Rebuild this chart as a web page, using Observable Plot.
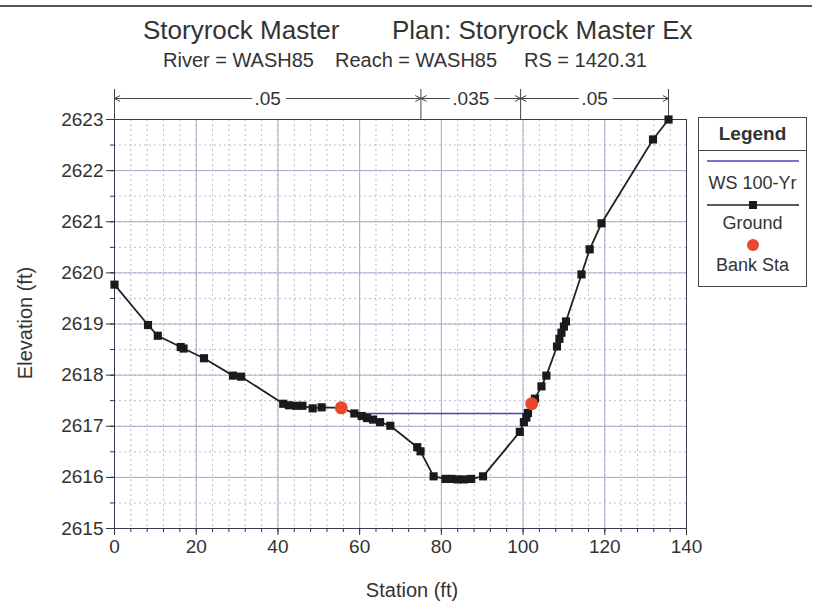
<!DOCTYPE html>
<html>
<head>
<meta charset="utf-8">
<script src="https://cdn.jsdelivr.net/npm/d3@7"></script>
<script src="https://cdn.jsdelivr.net/npm/@observablehq/plot@0.6"></script>
<style>
  body { margin: 0; background: #fff; }
  #wrap { position: relative; width: 824px; height: 602px; overflow: hidden; background: #fff;
          font-family: "Liberation Sans", Arial, sans-serif; color: #333; }
  .abs { position: absolute; white-space: pre; line-height: 1; }
  #plot { position: absolute; left: 0; top: 0; }
</style>
</head>
<body>
<div id="wrap">
  <div class="abs" style="left:0;top:5px;width:812px;height:0;border-top:2px solid #555;"></div>
  <div class="abs" style="left:143px;top:17px;font-size:26px;">Storyrock Master</div>
  <div class="abs" style="left:392px;top:17px;font-size:26px;">Plan: Storyrock Master Ex</div>
  <div class="abs" style="left:163px;top:50px;font-size:20px;">River = WASH85</div>
  <div class="abs" style="left:335px;top:50px;font-size:20px;">Reach = WASH85</div>
  <div class="abs" style="left:524px;top:50px;font-size:20px;">RS = 1420.31</div>
  <div id="plot"></div>
  <div class="abs" style="left:412px;top:580px;font-size:20px;transform:translateX(-50%);">Station (ft)</div>
  <div class="abs" style="left:25px;top:323px;font-size:20px;transform:translate(-50%,-50%) rotate(-90deg);">Elevation (ft)</div>
  <div id="legend" class="abs" style="left:698px;top:117px;width:107px;height:168px;border:1px solid #444;background:#fff;">
    <div class="abs" style="left:0;top:0;width:107px;height:32px;border-bottom:1px solid #444;text-align:center;font-weight:bold;font-size:19px;line-height:32px;">Legend</div>
    <svg class="abs" style="left:0;top:0" width="107" height="168">
      <line x1="8" x2="100" y1="43" y2="43" stroke="#4545b5" stroke-width="1.5"/>
      <line x1="8" x2="100" y1="87" y2="87" stroke="#222" stroke-width="1.5"/>
      <rect x="50" y="83" width="8" height="8" fill="#1a1a1a"/>
      <circle cx="54" cy="127" r="6" fill="#e8482c"/>
    </svg>
    <div class="abs" style="left:0;top:56px;width:107px;text-align:center;font-size:18px;">WS 100-Yr</div>
    <div class="abs" style="left:0;top:96px;width:107px;text-align:center;font-size:18px;">Ground</div>
    <div class="abs" style="left:0;top:138px;width:107px;text-align:center;font-size:18px;">Bank Sta</div>
  </div>
</div>
<script>
// ---- data ----
const groundStation = [0, 8.2, 10.6, 16.2, 16.9, 21.9, 29.0, 31.0, 41.3, 42.7, 44.5, 46.0, 48.5, 50.7, 55.5,
  58.7, 60.5, 61.8, 63.3, 65.0, 67.5, 74.1, 74.9, 78.1, 81.0, 82.5, 84.0, 85.5, 87.3, 90.2,
  99.2, 100.2, 100.8, 101.2, 102.1, 102.9, 104.5, 105.7, 108.3, 108.9, 109.4, 110.0, 110.5,
  114.3, 116.3, 119.2, 131.8, 135.6];
const groundElev = [2619.77, 2618.98, 2618.77, 2618.55, 2618.52, 2618.33, 2617.99, 2617.97, 2617.44, 2617.41, 2617.40, 2617.40, 2617.35, 2617.37, 2617.36,
  2617.25, 2617.20, 2617.16, 2617.13, 2617.08, 2617.01, 2616.59, 2616.51, 2616.02, 2615.97, 2615.97, 2615.96, 2615.96, 2615.97, 2616.02,
  2616.89, 2617.08, 2617.17, 2617.26, 2617.44, 2617.54, 2617.78, 2617.99, 2618.56, 2618.71, 2618.83, 2618.95, 2619.05,
  2619.97, 2620.46, 2620.97, 2622.61, 2623.0];
const bankStation = [55.5, 102.1];
const bankElev = [2617.36, 2617.44];
const wsStation = [58.7, 101.0];
const wsElev = [2617.25, 2617.25];
const nBreaks = [0, 75, 99.4, 135.6];
const nValues = [".05", ".035", ".05"];
const xMajorTicks = [0, 20, 40, 60, 80, 100, 120, 140];
const xMinorTicks = d3.range(0, 141, 4);
const yMajorTicks = [2615, 2616, 2617, 2618, 2619, 2620, 2621, 2622, 2623];
const yMinorTicks = d3.range(2615, 2623.01, 0.5);

// ---- tables ----
const ground = groundStation.map((x, i) => ({x, y: groundElev[i]}));
const bank = bankStation.map((x, i) => ({x, y: bankElev[i]}));
const ws = wsStation.map((x, i) => ({x, y: wsElev[i]}));
const zones = nValues.map((n, i) => ({n, a: nBreaks[i], b: nBreaks[i + 1], mid: (nBreaks[i] + nBreaks[i + 1]) / 2}));
const segs = zones.flatMap(z => [{x1: z.mid, x2: z.a}, {x1: z.mid, x2: z.b}]);
const topY = d3.max(yMajorTicks);

const ink = "#333";
const plot = Plot.plot({
  width: 824, height: 602,
  marginLeft: 114, marginRight: 138, marginTop: 119, marginBottom: 74,
  x: {domain: [0, 140]},
  y: {domain: [2615, 2623]},
  style: {fontFamily: "'Liberation Sans', Arial, sans-serif", background: "transparent", color: ink},
  marks: [
    Plot.gridX({ticks: xMinorTicks, stroke: "#bcbcd6", strokeOpacity: 1, strokeDasharray: "2,3"}),
    Plot.gridY({ticks: yMinorTicks, stroke: "#bcbcd6", strokeOpacity: 1, strokeDasharray: "2,3"}),
    Plot.gridX({ticks: xMajorTicks, stroke: "#a9a9cc", strokeOpacity: 1}),
    Plot.gridY({ticks: yMajorTicks, stroke: "#a9a9cc", strokeOpacity: 1}),
    Plot.frame({stroke: "#3a3a50"}),
    Plot.axisX({ticks: xMinorTicks, tickSize: 4, tickFormat: () => "", label: null, stroke: ink}),
    Plot.axisX({ticks: xMajorTicks, tickSize: 7, tickPadding: 4, fontSize: 19, stroke: ink, label: null}),
    Plot.axisY({ticks: yMinorTicks, tickSize: 4, tickFormat: () => "", label: null, stroke: ink}),
    Plot.axisY({ticks: yMajorTicks, tickSize: 8, tickPadding: 3, fontSize: 19, stroke: ink, tickFormat: d => String(d), label: null}),
    Plot.axisX({ticks: nBreaks, anchor: "top", tickSize: 31, tickFormat: () => "", label: null, stroke: "#444"}),
    Plot.arrow(segs, {x1: "x1", x2: "x2", y1: topY, y2: topY, dy: -21, stroke: "#444", strokeWidth: 1, headLength: 9, headAngle: 55}),
    Plot.text(zones, {x: "mid", y: topY, dy: -21, text: "n", fontSize: 19, fill: ink, stroke: "white", strokeWidth: 12}),
    Plot.line(ws, {x: "x", y: "y", stroke: "#4545b5", strokeWidth: 1.6}),
    Plot.line(ground, {x: "x", y: "y", stroke: "#222", strokeWidth: 1.8}),
    Plot.dot(ground, {x: "x", y: "y", symbol: "square", r: 4.6, fill: "#1a1a1a"}),
    Plot.dot(bank, {x: "x", y: "y", r: 6.5, fill: "#e8482c"})
  ]
});
document.getElementById("plot").appendChild(plot);
</script>
</body>
</html>
